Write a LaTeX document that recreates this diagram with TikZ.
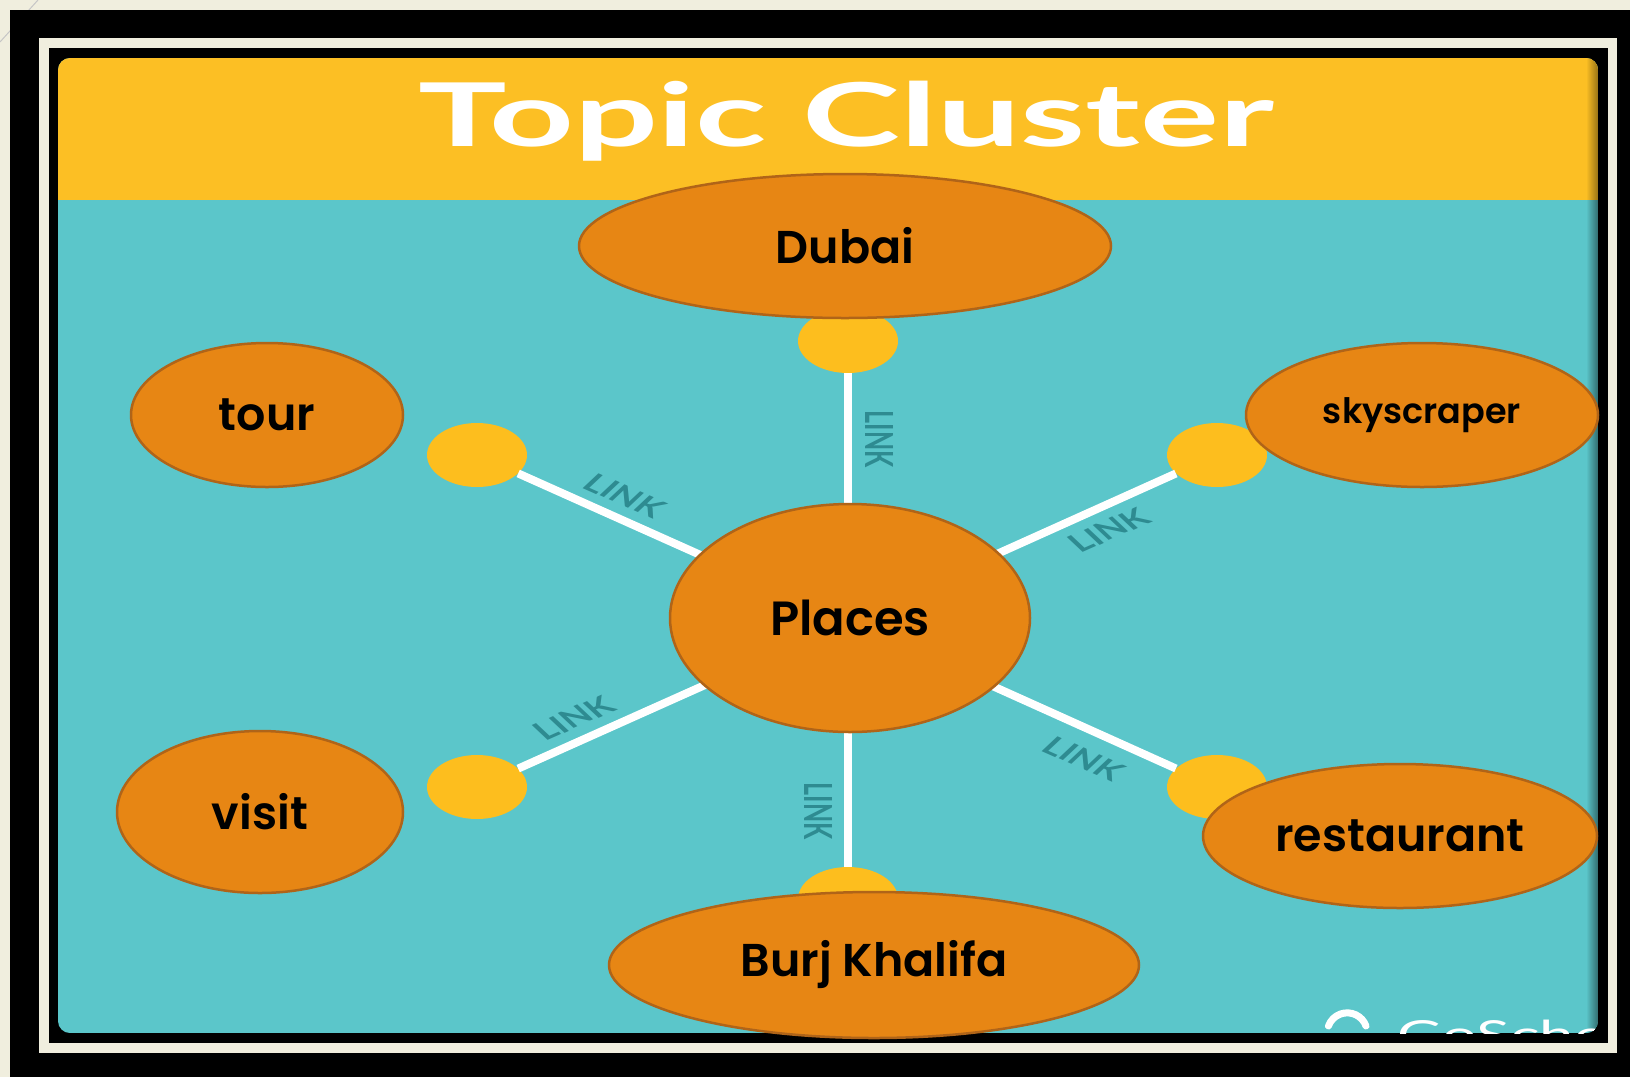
\documentclass[tikz,border=0pt]{standalone}
\usepackage{fontspec}
\setmainfont{Poppins}[BoldFont={Poppins SemiBold}]
\newfontfamily\titlefont{Lato}
\usetikzlibrary{shapes}
\definecolor{cream}{RGB}{240,238,222}
\definecolor{headeryellow}{RGB}{252,191,36}
\definecolor{clusterteal}{RGB}{91,198,202}
\definecolor{topicfill}{RGB}{231,134,20}
\definecolor{topicline}{RGB}{176,100,24}
\definecolor{dotyellow}{RGB}{253,190,30}
\definecolor{linkteal}{RGB}{46,139,145}
\newcommand{\fsize}[1]{\fontsize{#1}{#1}\selectfont}
\tikzstyle{topic}=[ellipse,draw=topicline,fill=topicfill,line width=2.5pt,inner sep=0pt,font=\bfseries\fsize{46}]
\tikzstyle{linkdot}=[ellipse,fill=dotyellow,minimum width=100pt,minimum height=64pt,inner sep=0pt]
\tikzstyle{spoke}=[draw=white,line width=8pt]
\tikzstyle{linklabel}=[text=linkteal,inner sep=0pt,font=\titlefont\bfseries\fsize{25}]

\begin{document}
\begin{tikzpicture}[x=1pt,y=-1pt]
  \useasboundingbox (0,0) rectangle (1630,1077);
  % slide and frames
  \fill[cream] (0,0) rectangle (1630,1077);
  \draw[gray!45,line width=1pt] (0,42) -- (38,0);
  \fill[black] (10,10) rectangle (1630,1077);
  \fill[cream] (39,38) rectangle (1617,1053);
  \fill[black] (49,48) rectangle (1608,1043);
  \begin{scope}
    \clip[rounded corners=12pt] (58,58) rectangle (1598,1033);
    \fill[clusterteal] (58,58) rectangle (1598,1033);
    \fill[headeryellow] (58,58) rectangle (1598,200);
    \shade[left color=headeryellow,right color=headeryellow!60!black] (1586,58) rectangle (1598,200);
    \shade[left color=clusterteal,right color=clusterteal!55!black] (1586,200) rectangle (1598,1033);
    \draw[white,line width=7pt,line cap=round] (1366,1026) arc (20:160:20pt);
    \node[anchor=north west,text=white,inner sep=0pt,xscale=1.55,font=\titlefont\fsize{40}] (brand) at (1397,1020) {GoSchedule};
  \end{scope}
  \node[anchor=base,text=white,inner sep=0pt,xscale=1.68,font=\titlefont\bfseries\fsize{88}] (title) at (846,146) {Topic Cluster};

  % dots and links
  \coordinate (hub) at (848,621);
  \node[linkdot] (dtop) at (848,341) {};
  \node[linkdot] (dbot) at (848,899) {};
  \node[linkdot] (dul) at (477,455) {};
  \node[linkdot] (dur) at (1217,455) {};
  \node[linkdot] (dll) at (477,787) {};
  \node[linkdot] (dlr) at (1217,787) {};
  \foreach \d in {dtop,dbot,dul,dur,dll,dlr}
    \draw[spoke] (hub) -- (\d);
  \node[linklabel,xscale=1.55,rotate=-90] (ltop) at (879,439) {LINK};
  \node[linklabel,xscale=1.55,rotate=-90] (lbot) at (818,811) {LINK};
  \node[linklabel,xscale=1.55,rotate=-34.5] (lul) at (625,496) {LINK};
  \node[linklabel,xscale=1.55,rotate=34.5] (lur) at (1109,530) {LINK};
  \node[linklabel,xscale=1.55,rotate=34.5] (lll) at (574,718) {LINK};
  \node[linklabel,xscale=1.55,rotate=-34.5] (llr) at (1084,759) {LINK};

  % topics
  \node[topic,minimum width=360pt,minimum height=228pt,font=\bfseries\fsize{48}] (places) at (850,618) {Places};
  \node[topic,minimum width=532pt,minimum height=144pt] (dubai) at (845,246) {Dubai};
  \node[topic,minimum width=272pt,minimum height=144pt] (tour) at (267,415) {tour};
  \node[topic,minimum width=352pt,minimum height=144pt,font=\bfseries\fsize{35}] (sky) at (1422,415) {skyscraper};
  \node[topic,minimum width=286pt,minimum height=162pt] (visit) at (260,812) {visit};
  \node[topic,minimum width=394pt,minimum height=144pt] (rest) at (1400,836) {restaurant};
  \node[topic,minimum width=530pt,minimum height=146pt] (burj) at (874,965) {Burj Khalifa};
\end{tikzpicture}
\end{document}
